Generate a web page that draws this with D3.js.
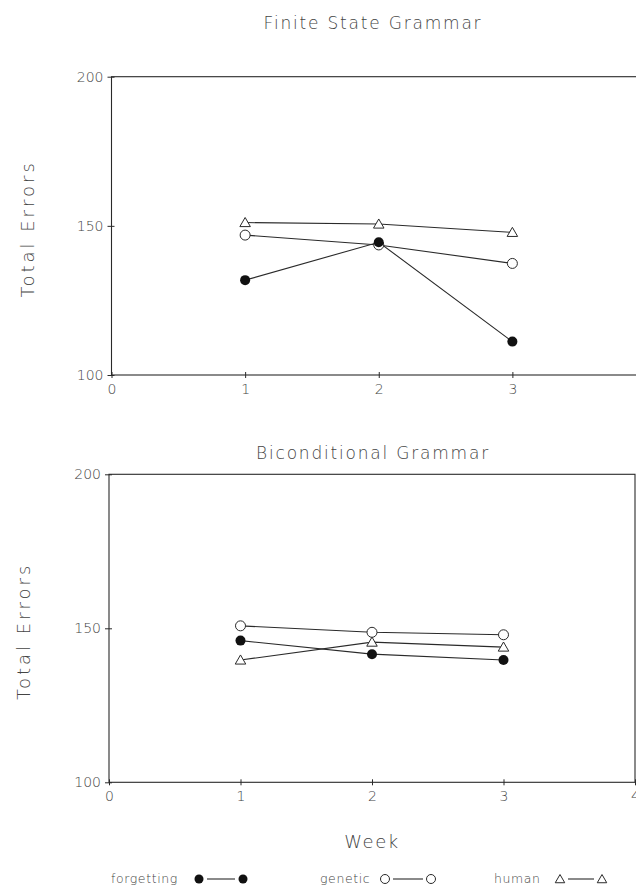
<!DOCTYPE html>
<html>
<head>
<meta charset="utf-8">
<script src="https://cdn.jsdelivr.net/npm/d3@7/dist/d3.min.js"></script>
<style>
  body { margin: 0; background: #fff; }
  svg text { font-family: "DejaVu Sans", sans-serif; font-weight: 200; fill: #444; }
</style>
</head>
<body>
<svg class="chart" width="636" height="888"></svg>
<script>
// Values.
var weeks = [1, 2, 3];
var xTicks = [0, 1, 2, 3, 4];
var yTicks = [100, 150, 200];
var seriesNames = ["forgetting", "genetic", "human"];
var panelTitles = ["Finite State Grammar", "Biconditional Grammar"];

var finiteForgetting = [131.8, 144.5, 111.2];
var finiteGenetic = [146.9, 143.6, 137.4];
var finiteHuman = [151.1, 150.6, 147.8];

var bicondForgetting = [146.0, 141.6, 139.7];
var bicondGenetic = [150.8, 148.7, 147.9];
var bicondHuman = [139.7, 145.5, 143.9];

var svg = d3.select("svg.chart");
var ink = "#2a2a2a";

// Each panel has its own frame (the scan is not perfectly regular).
var panels = [
    { title: panelTitles[0], titleY: 29, left: 111.5, right: 646, top: 76.7, bottom: 375,
      series: [finiteForgetting, finiteGenetic, finiteHuman], labelX: 28 },
    { title: panelTitles[1], titleY: 459, left: 109, right: 635, top: 474.3, bottom: 782.3,
      series: [bicondForgetting, bicondGenetic, bicondHuman], labelX: 24 }
];

function drawMarker (g, name, x, y, small) {
    var k = small ? 0.9 : 1;
    if (name === "forgetting") {
        g.append("circle").attr("cx", x).attr("cy", y).attr("r", 5 * k)
            .attr("fill", "#111");
    } else if (name === "genetic") {
        g.append("circle").attr("cx", x).attr("cy", y).attr("r", 5 * k)
            .attr("fill", "#fff").attr("stroke", ink).attr("stroke-width", 1);
    } else {
        g.append("path")
            .attr("d", d3.symbol().type(d3.symbolTriangle).size(48 * k * k)())
            .attr("transform", "translate(" + x + "," + (y + 1) + ")")
            .attr("fill", "#fff").attr("stroke", ink).attr("stroke-width", 1);
    }
}

panels.forEach(function (p) {
    var x = d3.scaleLinear().domain([0, 4]).range([p.left, p.right]);
    var y = d3.scaleLinear().domain([100, 200]).range([p.bottom, p.top]);
    var g = svg.append("g");

    // frame
    g.append("rect")
        .attr("x", p.left).attr("y", p.top)
        .attr("width", p.right - p.left).attr("height", p.bottom - p.top)
        .attr("fill", "none").attr("stroke", ink).attr("stroke-width", 1.1);

    var yAxis = g.append("g")
        .attr("transform", "translate(" + p.left + ",0)")
        .call(d3.axisLeft(y).tickValues(yTicks).tickFormat(d3.format("d")).tickSize(4).tickPadding(4));
    yAxis.select(".domain").remove();
    yAxis.selectAll(".tick line").attr("x1", 3).attr("stroke", ink);
    yAxis.selectAll(".tick text").style("font-size", "14px").attr("fill", "#444");

    var xAxis = g.append("g")
        .attr("transform", "translate(0," + p.bottom + ")")
        .call(d3.axisBottom(x).tickValues(xTicks).tickFormat(d3.format("d")).tickSize(3).tickPadding(6));
    xAxis.select(".domain").remove();
    xAxis.selectAll(".tick line").attr("y1", -3).attr("stroke", ink);
    xAxis.selectAll(".tick text").style("font-size", "14px").attr("fill", "#444");

    g.append("text")
        .attr("x", 373).attr("y", p.titleY)
        .attr("text-anchor", "middle")
        .style("font-size", "17px").style("letter-spacing", "1.8px")
        .text(p.title);

    g.append("text")
        .attr("transform", "translate(" + p.labelX + "," + ((p.top + p.bottom) / 2 + 3) + ") rotate(-90)")
        .attr("text-anchor", "middle").attr("dy", "0.35em")
        .style("font-size", "18px").style("letter-spacing", "3px")
        .text("Total Errors");

    var line = d3.line()
        .x(function (d, i) { return x(weeks[i]); })
        .y(function (d) { return y(d); });

    p.series.forEach(function (values) {
        g.append("path").datum(values)
            .attr("d", line)
            .attr("fill", "none").attr("stroke", ink).attr("stroke-width", 1.1);
    });

    // draw human and genetic before forgetting so filled dots sit on top
    [2, 1, 0].forEach(function (s) {
        p.series[s].forEach(function (v, i) {
            drawMarker(g, seriesNames[s], x(weeks[i]), y(v), false);
        });
    });
});

svg.append("text")
    .attr("x", 372).attr("y", 848)
    .attr("text-anchor", "middle")
    .style("font-size", "18px").style("letter-spacing", "1.5px")
    .text("Week");

// legend
var legend = svg.append("g");
var legendItems = [
    { name: seriesNames[0], textX: 111, a: 199, b: 243 },
    { name: seriesNames[1], textX: 320, a: 385, b: 431 },
    { name: seriesNames[2], textX: 494, a: 560, b: 602 }
];
legendItems.forEach(function (d) {
    legend.append("text")
        .attr("x", d.textX).attr("y", 883)
        .style("font-size", "12.5px").style("letter-spacing", "0.6px")
        .text(d.name);
    legend.append("line")
        .attr("x1", d.a + 8).attr("x2", d.b - 8)
        .attr("y1", 879).attr("y2", 879)
        .attr("stroke", ink).attr("stroke-width", 1.1);
    drawMarker(legend, d.name, d.a, 879, true);
    drawMarker(legend, d.name, d.b, 879, true);
});
</script>
</body>
</html>
